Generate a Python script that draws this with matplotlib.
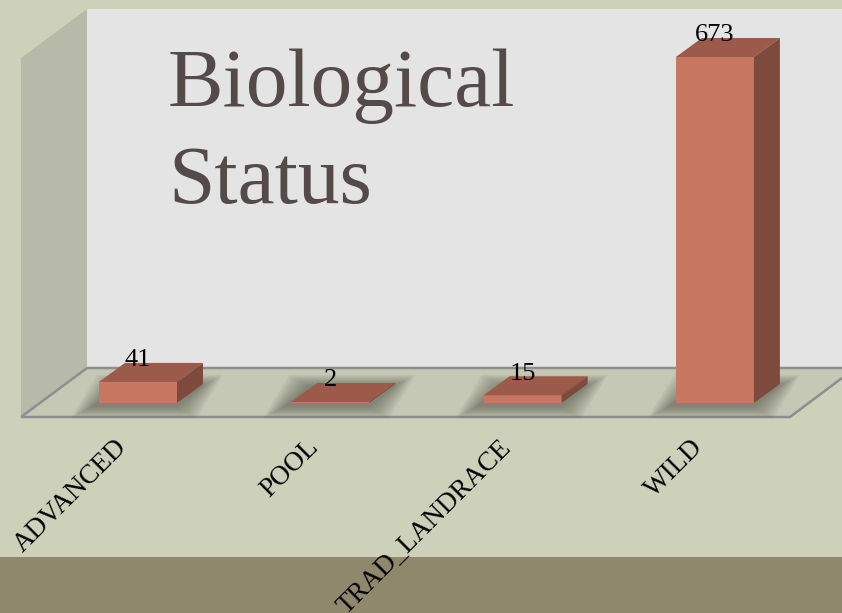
import matplotlib
matplotlib.use("Agg")
import matplotlib.pyplot as plt
from matplotlib.patches import Polygon, Rectangle
import numpy as np

# ---- data ----
categories = ["ADVANCED", "POOL", "TRAD_LANDRACE", "WILD"]
values = [41, 2, 15, 673]
title_text = "Biological\nStatus"

# ---- styling ----
BG = "#CDD1BA"
BAND = "#8F886C"
WALL_BACK = "#E4E4E4"
WALL_LEFT = "#B8BAA9"
FLOOR = "#C5C8B5"
EDGE = "#8E8E8E"
FRONT = "#C87763"
TOP = "#9B5A4A"
SIDE = "#7E4A3D"
SERIF = ["Liberation Serif", "DejaVu Serif"]

W, H = 842, 613
fig = plt.figure(figsize=(W / 100, H / 100), dpi=100)
fig.patch.set_facecolor(BG)

# background scene (pixel layout)
bg = fig.add_axes([0, 0, 1, 1])
bg.set_xlim(0, W)
bg.set_ylim(H, 0)
bg.axis("off")
bg.add_patch(Rectangle((0, 557), W, H - 557, color=BAND, lw=0))
bg.add_patch(Rectangle((87, 9), W - 87, 368 - 9, color=WALL_BACK, lw=0))
bg.add_patch(Polygon([(87, 9), (21, 58), (21, 417), (87, 368)], closed=True,
                     color=WALL_LEFT, lw=0))
bg.add_patch(Polygon([(87, 368), (W, 368), (W, 378), (790, 417), (21, 417)],
                     closed=True, color=FLOOR, lw=0))
bg.plot([21, 790, W], [417, 417, 378], color=EDGE, lw=1.8, solid_capstyle="butt")
bg.plot([21, 87, W], [417, 368, 368], color=EDGE, lw=1.8, solid_capstyle="butt")

# data axes (front plane of bars)
px_per_x = 192.3
px_per_y = 346 / 673
ax = fig.add_axes([0, 0, 1, 1], zorder=2)
ax.patch.set_alpha(0)
ax.set_xlim((0 - 138) / px_per_x, (W - 138) / px_per_x)
ax.set_ylim((403 - H) / px_per_y, 403 / px_per_y)
ax.axis("off")

x = np.arange(len(categories))
bw = 78 / px_per_x
dx = 26 / px_per_x
dy = 19 / px_per_y

# soft shadows
for xi in x:
    cx0 = xi - bw / 2 - 6 / px_per_x
    cx1 = xi + bw / 2 + dx - 2 / px_per_x
    y0 = -3 / px_per_y
    y1 = dy - 3 / px_per_y
    for k in range(10):
        e = (10 - k) * 2.2
        ex = e / px_per_x
        ey = e * 0.55 / px_per_y
        poly = [(cx0 - ex, y0 - ey), (cx1 - dx + ex, y0 - ey),
                (cx1 + ex, y1 + ey), (cx0 + dx - ex, y1 + ey)]
        ax.add_patch(Polygon(poly, closed=True, color="#3a3a30", alpha=0.06,
                             lw=0, zorder=1))

# bars
ax.bar(x, values, width=bw, color=FRONT, lw=0, zorder=3)
for xi, v in zip(x, values):
    top = [(xi - bw / 2, v), (xi + bw / 2, v), (xi + bw / 2 + dx, v + dy),
           (xi - bw / 2 + dx, v + dy)]
    side = [(xi + bw / 2, 0), (xi + bw / 2 + dx, dy), (xi + bw / 2 + dx, v + dy),
            (xi + bw / 2, v)]
    ax.add_patch(Polygon(top, closed=True, color=TOP, lw=0, zorder=3))
    ax.add_patch(Polygon(side, closed=True, color=SIDE, lw=0, zorder=3))
    ax.annotate(str(v), xy=(xi, v + dy), xytext=(0, 2), textcoords="offset points",
                ha="center", va="center", fontsize=19, family=SERIF,
                color="black", zorder=5)

# category labels
for xi, lab in zip(x, categories):
    ax.annotate(lab, xy=(xi, 0), xytext=(-24 * 0.72, -32 * 0.72),
                textcoords="offset points", ha="right", va="top",
                rotation=45, rotation_mode="anchor", fontsize=19.5,
                family=SERIF, color="black")

# title
bg.text(168, 203, title_text, fontsize=60, family=SERIF, color="#544A4A",
        ha="left", va="baseline", linespacing=1.38, zorder=4)

fig.savefig("out.png", dpi=100, facecolor=BG)
